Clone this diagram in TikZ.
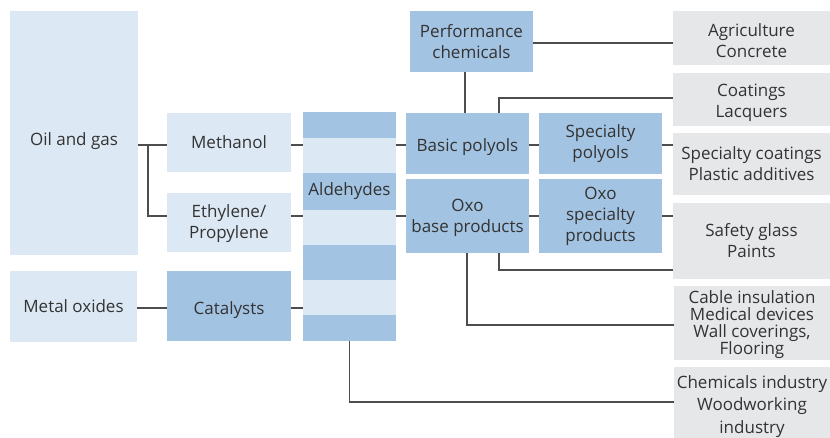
\documentclass[tikz,border=0pt]{standalone}
\usepackage{fontspec}
\setmainfont{Open Sans}
\definecolor{lblue}{HTML}{DCE8F4}
\definecolor{dblue}{HTML}{A3C3E2}
\definecolor{lgray}{HTML}{E6E7E9}
\definecolor{txt}{HTML}{333333}
\definecolor{ln}{HTML}{4D4D4D}
\begin{document}
\begin{tikzpicture}[x=1pt,y=-1pt,
  box/.style={inner sep=0pt,align=center,text=txt,font=\fontsize{17}{21}\selectfont},
  lb/.style={box,fill=lblue},
  db/.style={box,fill=dblue},
  gb/.style={box,fill=lgray},
  conn/.style={draw=ln,line width=1.2pt}]
\useasboundingbox (0,0) rectangle (830,437);
% left column
\node[lb,minimum width=128pt,minimum height=244pt] (oil) at (74,133) {};
\node[box] (oiltxt) at (74,141) {Oil and gas};
\node[lb,minimum width=124pt,minimum height=59pt] (meth) at (229,142.5) {Methanol};
\node[lb,minimum width=124pt,minimum height=59pt] (eth) at (229,222.5) {};
\node[box] (ethtxt) at (229,224) {Ethylene/\\Propylene};
\node[lb,minimum width=127pt,minimum height=71pt] (metal) at (73.5,306.5) {Metal oxides};
\node[db,minimum width=124pt,minimum height=70pt] (cat) at (229,306) {\raisebox{-4pt}[\height][\depth]{Catalysts}};
% aldehydes column
\fill[dblue] (303,112) rectangle (396,138);
\fill[lblue] (303,138) rectangle (396,173);
\fill[dblue] (303,173) rectangle (396,210);
\fill[lblue] (303,210) rectangle (396,245);
\fill[dblue] (303,245) rectangle (396,280);
\fill[lblue] (303,280) rectangle (396,315);
\fill[dblue] (303,315) rectangle (396,341);
\node[inner sep=0pt,minimum width=93pt,minimum height=229pt] (ald) at (349.5,226.5) {};
\node[box] (aldtxt) at (349.5,191) {Aldehydes};
% middle
\node[db,minimum width=123pt,minimum height=61pt] (perf) at (471.5,41.5) {Performance\\chemicals};
\node[db,minimum width=123pt,minimum height=61pt] (basic) at (467.5,143.5) {\raisebox{-3.5pt}[\height][\depth]{Basic polyols}};
\node[db,minimum width=123pt,minimum height=61pt] (specpol) at (600.5,143.5) {Specialty\\polyols};
\node[db,minimum width=123pt,minimum height=74pt] (oxobase) at (467.5,216) {};
\node[box] (oxobasetxt) at (467.5,218) {Oxo\\base products};
\node[db,minimum width=123pt,minimum height=74pt] (oxospec) at (600.5,216) {Oxo\\specialty\\products};
% right
\node[gb,minimum width=157pt,minimum height=54pt] (agri) at (751.5,38) {};
\node[box] (agritxt) at (751.5,41) {Agriculture\\Concrete};
\node[gb,minimum width=157pt,minimum height=53pt] (coat) at (751.5,99.5) {};
\node[box] (coattxt) at (751.5,103) {Coatings\\Lacquers};
\node[gb,minimum width=157pt,minimum height=62pt] (spcoat) at (751.5,164) {Specialty coatings\\Plastic additives};
\node[gb,minimum width=157pt,minimum height=76pt] (safety) at (751.5,241) {Safety glass\\Paints};
\node[gb,minimum width=156pt,minimum height=74pt] (cable) at (752,323) {};
\node[box,font=\fontsize{17}{17}\selectfont] (cabletxt) at (752,325) {Cable insulation\\Medical devices\\Wall coverings,\\Flooring};
\node[gb,minimum width=156pt,minimum height=79pt,font=\fontsize{17}{22.5}\selectfont] (chem) at (752,406.5) {Chemicals industry\\Woodworking\\industry};
% connectors
\coordinate (j1) at (148,145);
\draw[conn] (oil.east|-0,145) -- (meth.west|-0,145);
\draw[conn] (j1) |- (eth.west|-0,216);
\draw[conn] (meth.east|-0,145) -- (ald.west|-0,145);
\draw[conn] (eth.east|-0,216) -- (ald.west|-0,216);
\draw[conn] (metal.east|-0,308) -- (cat.west|-0,308);
\draw[conn] (cat.east|-0,308) -- (ald.west|-0,308);
\draw[conn] (ald.south) |- (chem.west|-0,402);
\draw[conn] (ald.east|-0,145) -- (basic.west|-0,145);
\draw[conn] (ald.east|-0,216) -- (oxobase.west|-0,216);
\draw[conn] (basic.east|-0,145) -- (specpol.west|-0,145);
\draw[conn] (specpol.east|-0,145) -- (spcoat.west|-0,145);
\draw[conn] (oxobase.east|-0,216) -- (oxospec.west|-0,216);
\draw[conn] (oxospec.east|-0,216) -- (safety.west|-0,216);
\draw[conn] (perf.east|-0,43) -- (agri.west|-0,43);
\draw[conn] (perf.south-|465,0) -- (basic.north-|465,0);
\draw[conn] (coat.west|-0,98) -| (basic.north-|499,0);
\draw[conn] (oxobase.south-|499,0) |- (safety.west|-0,270);
\draw[conn] (oxobase.south-|467,0) |- (cable.west|-0,325);
\end{tikzpicture}
\end{document}
